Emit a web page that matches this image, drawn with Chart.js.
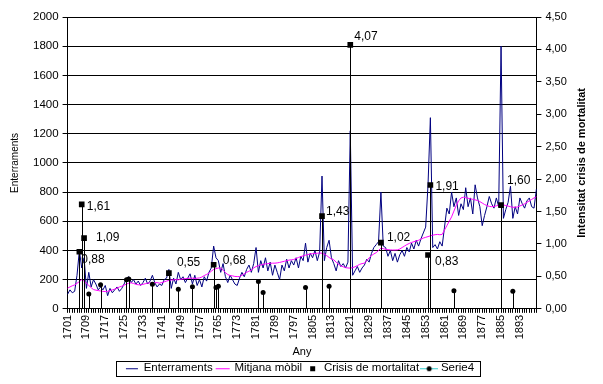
<!DOCTYPE html>
<html><head><meta charset="utf-8">
<script src="https://cdn.jsdelivr.net/npm/chart.js@4/dist/chart.umd.min.js"></script>
<style>html,body{margin:0;padding:0;background:#fff;} #wrap{width:603px;height:384px;position:relative;}</style>
</head><body><div id="wrap"><canvas id="c"></canvas></div>
<script>
const firstYear = 1701, lastYear = 1900;
const years = [];
for (let y = firstYear; y <= lastYear; y++) years.push(String(y));

const burials = [
 100,130,110,120,230,400,280,350,140,250,
 150,200,170,130,150,130,160,90,140,110,
 130,150,120,140,170,210,220,180,200,170,
 190,160,180,210,170,190,230,180,150,170,
 160,200,210,270,140,210,170,250,200,220,
 180,210,240,170,230,160,200,150,220,190,
 250,280,430,350,330,250,310,220,180,230,
 200,170,160,210,250,220,270,300,250,310,
 420,250,330,280,350,260,320,230,300,250,
 200,300,260,340,280,330,300,350,280,360,
 330,450,320,380,350,400,330,390,910,330,
 420,470,350,310,260,330,290,310,280,320,
 1220,230,260,290,250,280,300,340,320,380,
 420,440,460,800,430,420,360,400,330,380,
 320,370,400,360,420,390,450,410,470,430,
 480,520,560,850,1310,420,440,410,460,430,
 560,690,650,800,700,760,640,720,680,830,
 700,760,650,850,760,700,570,640,700,770,
 720,690,760,700,1800,620,680,730,840,620,
 700,650,760,720,690,740,760,700,690,820
];

const movingAvg = [
 142,150,158,164,175,187,200,190,175,160,
 145,132,128,125,122,120,118,120,125,130,
 135,142,150,155,162,170,176,178,174,168,
 165,164,168,172,176,178,176,178,180,176,
 180,185,190,195,198,199,200,199,202,205,
 207,208,210,210,208,210,212,218,228,236,
 244,258,270,275,280,279,265,248,235,228,
 226,222,221,221,230,240,250,258,265,280,
 290,295,300,305,308,310,312,313,313,315,
 318,322,326,330,334,336,338,345,352,358,
 363,368,372,376,378,380,381,383,381,375,
 365,352,342,336,320,305,295,288,282,280,
 279,282,288,296,305,310,313,330,350,365,
 376,385,400,416,412,408,405,404,403,403,
 404,410,420,430,440,448,455,460,465,470,
 478,485,490,495,500,505,508,510,508,510,
 540,570,600,630,670,710,740,760,765,762,
 758,755,750,747,742,735,725,715,708,702,
 700,702,706,710,712,712,708,704,700,696,
 696,698,705,712,720,730,740,750,760,768
];

const crisisYears  = [1706, 1707, 1708, 1744, 1763, 1809, 1821, 1834, 1854, 1855, 1885];
const crisisValues = [0.88, 1.61, 1.09, 0.55, 0.68, 1.43, 4.07, 1.02, 0.83, 1.91, 1.60];

const serie4Years  = [1710, 1715, 1726, 1727, 1737, 1748, 1754, 1764, 1765, 1782, 1784, 1802, 1812, 1865, 1890];
const serie4Values = [0.23, 0.37, 0.45, 0.46, 0.38, 0.30, 0.34, 0.33, 0.35, 0.42, 0.25, 0.33, 0.35, 0.28, 0.27];

const leftTicks = {min: 0, max: 2000, step: 200};
const rightTicks = {min: 0, max: 4.5, step: 0.5};

function sparse(ys, vs) {
  const out = years.map(() => null);
  ys.forEach((y, i) => { out[y - firstYear] = vs[i]; });
  return out;
}
const crisisData = sparse(crisisYears, crisisValues);
const serie4Data = sparse(serie4Years, serie4Values);

const fmt = v => v.toFixed(2).replace('.', ',');
const FONT = "'Liberation Sans', Arial, sans-serif";
Chart.defaults.font.family = FONT;
Chart.defaults.color = '#000';

function icon(draw) {
  const c = document.createElement('canvas');
  c.width = 18; c.height = 10;
  const g = c.getContext('2d');
  draw(g);
  return c;
}
const icons = [
  icon(g => { g.strokeStyle = '#000080'; g.lineWidth = 1; g.beginPath(); g.moveTo(3, 5.5); g.lineTo(15, 5.5); g.stroke(); }),
  icon(g => { g.strokeStyle = '#ff00ff'; g.lineWidth = 1; g.beginPath(); g.moveTo(2, 5.5); g.lineTo(16, 5.5); g.stroke(); }),
  icon(g => { g.fillStyle = '#000'; g.fillRect(7, 3, 5, 5); }),
  icon(g => { g.strokeStyle = '#33cccc'; g.lineWidth = 1; g.beginPath(); g.moveTo(0, 5.5); g.lineTo(18, 5.5); g.stroke(); g.fillStyle = '#000'; g.beginPath(); g.arc(9, 5.5, 2.5, 0, Math.PI * 2); g.fill(); })
];

const labelOffsets = {
  1706: [2, 8], 1707: [5, 2], 1708: [12, 0], 1744: [8, -10], 1763: [9, -4],
  1809: [4, -4], 1821: [4, -8], 1834: [6, -5], 1854: [7, 7], 1855: [5, 2], 1885: [6, -24]
};

const stemsPlugin = {
  id: 'stems',
  afterDatasetsDraw(chart) {
    const ctx = chart.ctx;
    chart.data.datasets.forEach((ds, di) => {
      if (!ds.stems) return;
      const meta = chart.getDatasetMeta(di);
      const sc = chart.scales[meta.yAxisID];
      ctx.save();
      ctx.strokeStyle = '#000'; ctx.lineWidth = 1;
      meta.data.forEach((el, i) => {
        if (ds.data[i] == null) return;
        const x = Math.round(el.x) + 0.5;
        ctx.beginPath(); ctx.moveTo(x, el.y); ctx.lineTo(x, sc.bottom); ctx.stroke();
      });
      ctx.restore();
    });
  }
};

const labelsPlugin = {
  id: 'crisisLabels',
  afterDatasetsDraw(chart) {
    const ctx = chart.ctx;
    const di = 2;
    const meta = chart.getDatasetMeta(di);
    const ds = chart.data.datasets[di];
    ctx.save();
    ctx.font = '12px ' + FONT; ctx.fillStyle = '#000';
    ctx.textBaseline = 'middle'; ctx.textAlign = 'left';
    meta.data.forEach((el, i) => {
      const v = ds.data[i];
      if (v == null) return;
      const off = labelOffsets[years[i]] || [5, 0];
      ctx.fillText(fmt(v), el.x + off[0], el.y + off[1]);
    });
    ctx.restore();
  }
};

const extrasPlugin = {
  id: 'extras',
  afterDraw(chart) {
    const ctx = chart.ctx;
    const a = chart.chartArea;
    ctx.save();
    ctx.font = 'bold 11px ' + FONT; ctx.fillStyle = '#000';
    ctx.textAlign = 'center'; ctx.textBaseline = 'middle';
    ctx.translate(582, (a.top + a.bottom) / 2);
    ctx.rotate(-Math.PI / 2);
    ctx.fillText('Intensitat crisis de mortalitat', 0, 0);
    ctx.restore();
    const hb = chart.legend.legendHitBoxes;
    if (hb && hb.length) {
      let l = Infinity, r = -Infinity, t = Infinity, b = -Infinity;
      hb.forEach(h => { l = Math.min(l, h.left); r = Math.max(r, h.left + h.width); t = Math.min(t, h.top); b = Math.max(b, h.top + h.height); });
      ctx.save();
      ctx.strokeStyle = '#000'; ctx.lineWidth = 1;
      const L = Math.round(l - 10) + 0.5, T = Math.round(t - 2) + 0.5;
      ctx.strokeRect(L, T, Math.round(r + 6) - Math.round(l - 10), Math.round(b + 2) - Math.round(t - 2));
      ctx.restore();
    }
  }
};

new Chart(document.getElementById('c'), {
  type: 'line',
  data: {
    labels: years,
    datasets: [
      { label: 'Enterraments', data: burials, borderColor: '#000080', borderWidth: 1, pointRadius: 0, yAxisID: 'y', order: 2 },
      { label: 'Mitjana mòbil', data: movingAvg, borderColor: '#ff00ff', borderWidth: 1, pointRadius: 0, yAxisID: 'y', order: 1 },
      { label: 'Crisis de mortalitat', data: crisisData, showLine: false, pointStyle: 'rect', pointRadius: 4, pointBackgroundColor: '#000', pointBorderColor: '#000', pointBorderWidth: 0, yAxisID: 'y1', stems: true, order: 0 },
      { label: 'Serie4', data: serie4Data, showLine: false, borderColor: '#33cccc', pointStyle: 'circle', pointRadius: 2.5, pointBackgroundColor: '#000', pointBorderColor: '#000', pointBorderWidth: 0, yAxisID: 'y1', stems: true, order: 0 }
    ]
  },
  options: {
    responsive: true, maintainAspectRatio: false, animation: false, devicePixelRatio: 1,
    layout: { padding: { left: 9, right: 12, top: 17, bottom: 0 } },
    plugins: {
      tooltip: { enabled: false },
      legend: {
        position: 'bottom',
        labels: {
          usePointStyle: true, pointStyleWidth: 12, padding: 4,
          font: { size: 11.5, family: FONT }, color: '#000',
          generateLabels(chart) {
            return chart.data.datasets.map((ds, i) => ({
              text: ds.label, pointStyle: icons[i], datasetIndex: i, hidden: false,
              lineWidth: 0, strokeStyle: 'rgba(0,0,0,0)', fillStyle: 'rgba(0,0,0,0)', fontColor: '#000'
            }));
          }
        }
      }
    },
    scales: {
      x: {
        type: 'category', offset: false,
        grid: { drawOnChartArea: false, drawTicks: true, tickLength: 4, color: '#000' },
        border: { color: '#000' },
        ticks: { autoSkip: false, maxRotation: 90, minRotation: 90, padding: 2, font: { size: 11 }, color: '#000',
          callback: (v, i) => (i % 8 === 0 ? years[i] : '') },
        title: { display: true, text: 'Any', font: { size: 11 }, color: '#000', padding: { top: 4, bottom: 0 } }
      },
      y: {
        position: 'left', min: leftTicks.min, max: leftTicks.max,
        grid: { color: '#000', tickLength: 5 },
        border: { color: '#000' },
        ticks: { stepSize: leftTicks.step, font: { size: 11.5 }, color: '#000', padding: 4, callback: v => String(v) },
        title: { display: true, text: 'Enterraments', font: { size: 10 }, color: '#000', padding: { top: 0, bottom: 8 } }
      },
      y1: {
        position: 'right', min: rightTicks.min, max: rightTicks.max,
        grid: { drawOnChartArea: false, color: '#000', tickLength: 5 },
        border: { color: '#000' },
        ticks: { stepSize: rightTicks.step, font: { size: 11 }, color: '#000', padding: 4, callback: v => fmt(v) },
        title: { display: true, text: ' ', font: { size: 11, weight: 'bold' }, padding: { top: 4, bottom: 3 } }
      }
    }
  },
  plugins: [stemsPlugin, labelsPlugin, extrasPlugin]
});
</script>
</body></html>
